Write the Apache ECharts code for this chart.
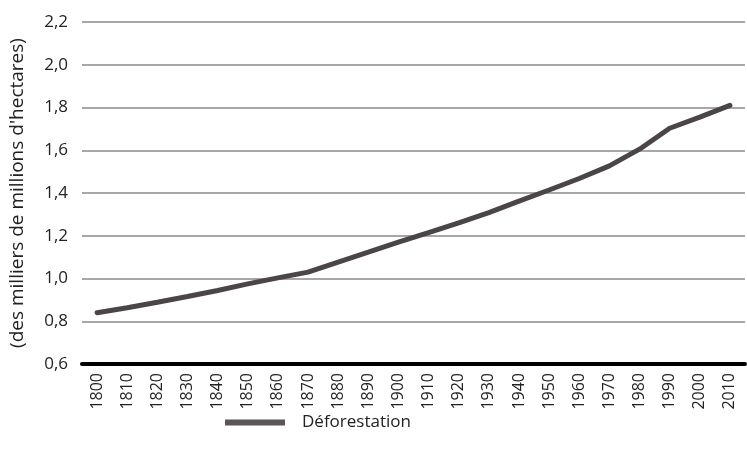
<!DOCTYPE html>
<html>
<head>
<meta charset="utf-8">
<script src="https://cdn.jsdelivr.net/npm/echarts@6/dist/echarts.min.js"></script>
<style>html,body{margin:0;padding:0;background:#fff}#c{width:747px;height:460px}</style>
</head>
<body>
<div id="c"></div>
<script>
const years = ['1800','1810','1820','1830','1840','1850','1860','1870','1880','1890','1900','1910','1920','1930','1940','1950','1960','1970','1980','1990','2000','2010'];
const deforestation = [0.84,0.863,0.889,0.916,0.944,0.975,1.003,1.03,1.077,1.123,1.17,1.215,1.26,1.308,1.362,1.414,1.468,1.527,1.605,1.703,1.755,1.81];
const seriesName = 'Déforestation';
const yAxisName = "(des milliers de millions d'hectares)";

const chart = echarts.init(document.getElementById('c'));
chart.setOption({
  animation: false,
  textStyle: { fontFamily: 'Open Sans' },
  grid: { left: 82, right: 2, top: 22, bottom: 96 },
  legend: {
    left: 220, top: 409,
    icon: 'rect', itemWidth: 60, itemHeight: 6, itemGap: 10,
    textStyle: { fontSize: 17, color: '#222', padding: [0,0,0,12] },
    data: [seriesName]
  },
  xAxis: {
    type: 'category', data: years, boundaryGap: true,
    axisLine: { lineStyle: { color: '#000', width: 4 } },
    axisTick: { show: false },
    axisLabel: { rotate: 90, fontSize: 16, color: '#222', margin: 9 }
  },
  yAxis: {
    type: 'value', min: 0.6, max: 2.2, interval: 0.2,
    name: yAxisName, nameLocation: 'middle', nameGap: 55, nameRotate: 90,
    nameTextStyle: { fontSize: 19, color: '#222' },
    axisLine: { show: false }, axisTick: { show: false },
    axisLabel: { fontSize: 17, color: '#222', margin: 14,
      formatter: v => v.toFixed(1).replace('.', ',') },
    splitLine: { lineStyle: { color: '#8a8a8a', width: 1.5 } }
  },
  series: [{
    name: seriesName, type: 'line', data: deforestation,
    symbol: 'none', smooth: false,
    lineStyle: { color: '#4b4549', width: 5, cap: 'round' },
    itemStyle: { color: '#5a5558' }
  }]
});
</script>
</body>
</html>
